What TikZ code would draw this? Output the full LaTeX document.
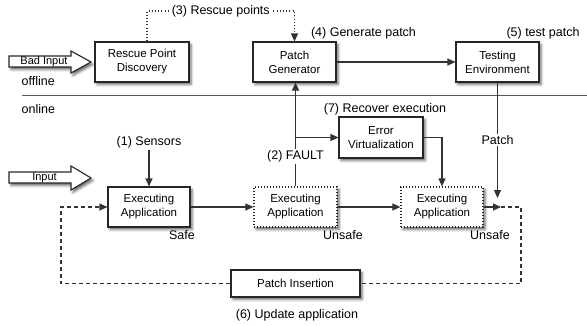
\documentclass[tikz,border=0pt]{standalone}
\usepackage{fontspec}
\setmainfont{Liberation Sans}
\usetikzlibrary{arrows.meta,shadows.blur,calc}
\definecolor{ln}{HTML}{333333}
\begin{document}
\begin{tikzpicture}[x=1pt,y=-1pt,
  shad/.style={blur shadow={shadow xshift=2pt, shadow yshift=-2.5pt, shadow blur radius=2.5pt, shadow opacity=60}},
  box/.style={draw=black!85, line width=1.1pt, fill=white, align=center, font=\fontsize{11.5}{14}\selectfont, inner sep=0pt, shad},
  dbox/.style={box, line width=1.2pt, dash pattern=on 1.2pt off 1.8pt},
  lbl/.style={font=\fontsize{12.5}{14}\selectfont, inner sep=1.5pt},
  tip/.style={-{Triangle[length=8pt,width=7pt]}},
  conn/.style={draw=ln, line width=1.1pt, tip},
  dotline/.style={draw=ln, line width=1.1pt, dash pattern=on 1pt off 2.2pt},
  dashline/.style={draw=ln, line width=1.1pt, dash pattern=on 4pt off 3pt},
  bigarrow/.style={draw=black!85, line width=1.1pt, fill=white, shad},
  arrtext/.style={font=\fontsize{11}{13}\selectfont, inner sep=0pt}
]
\useasboundingbox (0,0) rectangle (587,325);

% divider
\draw[draw=black!65, line width=1pt] (22,95) -- (587,95);
\node[lbl, anchor=west] (offl) at (20,81) {offline};
\node[lbl, anchor=west] (onl) at (20,109) {online};

% big arrows
\draw[bigarrow] (9,56) -- (71,56) -- (71,51) -- (91,62) -- (71,73) -- (71,67) -- (9,67) -- cycle;
\node[arrtext] (badin) at (44,61.5) {Bad Input};
\draw[bigarrow] (9,172) -- (71,172) -- (71,166) -- (91,178) -- (71,190) -- (71,183) -- (9,183) -- cycle;
\node[arrtext] (inp) at (44.5,177.5) {Input};

% boxes
\node[box, minimum width=94pt, minimum height=40pt] (rpd) at (142,62) {Rescue Point\\Discovery};
\node[box, minimum width=83pt, minimum height=40pt] (pg) at (294.5,62) {Patch\\Generator};
\node[box, minimum width=83pt, minimum height=40pt] (te) at (497.5,62) {Testing\\Environment};
\node[box, minimum width=84pt, minimum height=41pt] (ev) at (381,137.5) {Error\\Virtualization};
\node[box, minimum width=82pt, minimum height=40pt] (ea1) at (149,207) {Executing\\Application};
\node[dbox, minimum width=83pt, minimum height=40pt] (ea2) at (295.5,207) {Executing\\Application};
\node[dbox, minimum width=82pt, minimum height=40pt] (ea3) at (442,207) {Executing\\Application};
\node[box, minimum width=129pt, minimum height=27pt] (pi) at (295.5,283.5) {Patch Insertion};

% labels
\node[lbl] (l4) at (363.5,33) {(4) Generate patch};
\node[lbl] (l5) at (543,33) {(5) test patch};
\node[lbl] (l7) at (385,109) {(7) Recover execution};
\node[lbl] (l1) at (149,142) {(1) Sensors};
\node[lbl] (ls) at (182,235) {Safe};
\node[lbl] (lu1) at (343,235) {Unsafe};
\node[lbl] (lu2) at (490,235) {Unsafe};
\node[lbl] (l6) at (297,315) {(6) Update application};

% dotted rescue-points connector
\coordinate (r1) at (147,11);
\coordinate (r2) at (294.5,11);
\draw[dotline, tip] (rpd.north -| r1) -- (r1) -- node[lbl, fill=white, inner xsep=3pt] (l3) {(3) Rescue points} (r2) -- (pg.north);

% solid connectors
\draw[conn] (pg.east) -- (te.west);
\draw[conn] (l1.south) -- (ea1.north);
\draw[conn] (ea1.east) -- (ea2.west);
\draw[conn] (ea2.east) -- (ea3.west);
\draw[conn] (ea2.north) -- node[lbl, fill=white, pos=0.29] (l2) {(2) FAULT} (ea2.north |- pg.south);
\coordinate (fb) at (295.5,137.5);
\draw[conn] (fb) -- (ev.west);
\draw[conn] (ev.east) -| (ea3.north);
\coordinate (pt) at (497.5,198);
\draw[conn] (te.south) -- node[lbl, fill=white, pos=0.5] (lp) {Patch} (pt);
\coordinate (lpt) at (501,207);
\draw[conn] (ea3.east) -- (lpt);

% dashed update loop
\coordinate (lr) at (521,207);
\coordinate (ll) at (61,207);
\draw[dashline] (lpt) -- (lr) |- (pi.east);
\draw[dashline, tip] (pi.west) -| (ll) -- (ea1.west);
\end{tikzpicture}
\end{document}
